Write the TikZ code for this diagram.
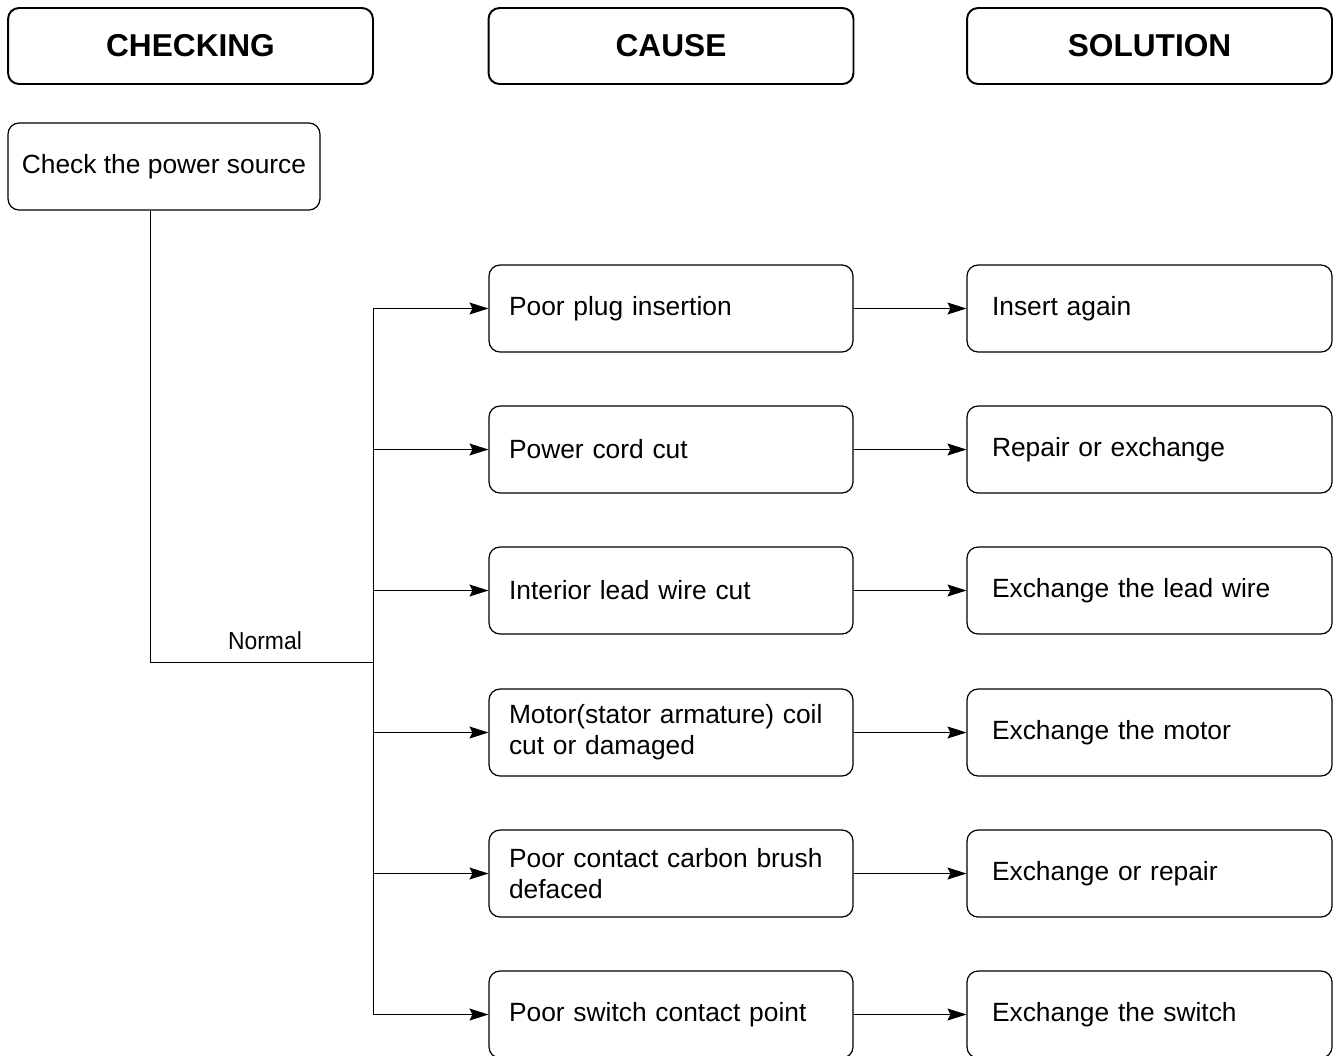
\documentclass[tikz,border=0pt]{standalone}
\usepackage{fontspec}
\setmainfont{Liberation Sans}
\newfontfamily\narrowfont[FakeStretch=0.93]{Liberation Sans}
\usetikzlibrary{positioning}
\usetikzlibrary{arrows.meta}

\tikzset{
  headbox/.style={draw, line width=1.1pt, rounded corners=0.22cm,
    minimum width=7.3cm, minimum height=1.52cm,
    font=\fontsize{18}{21}\selectfont\bfseries},
  stepbox/.style={draw, line width=0.7pt, rounded corners=0.22cm,
    minimum height=1.74cm, font=\fontsize{15}{17.6}\selectfont},
  causebox/.style={stepbox, text width=6.48cm, inner xsep=0.4cm, align=left},
  solbox/.style={stepbox, text width=6.3cm, inner xsep=0.5cm, align=left},
  link/.style={line width=0.55pt},
  arr/.style={link, -{Stealth[length=0.38cm,width=0.24cm,inset=0.06cm]}},
}

\begin{document}
\begin{tikzpicture}[x=0.02cm,y=-0.02cm]
            \clip (0,0) rectangle (1337,1055) ;
            % column headers
            \node at ( 190.5,46) [headbox] (hcheck) {CHECKING} ;
            \node at ( 671.0,46) [headbox] (hcause) {CAUSE} ;
            \node at (1149.5,46) [headbox] (hsolut) {SOLUTION} ;
            % checking step
            \node at (164,166.5) [stepbox,minimum width=6.24cm] (nchk) {Check the power source} ;
            % causes
            \node at (671, 308.5) [causebox] (nc1) {Poor plug insertion} ;
            \node at (671, 449.5) [causebox] (nc2) {Power cord cut} ;
            \node at (671, 590.5) [causebox] (nc3) {Interior lead wire cut} ;
            \node at (671, 732.5) [causebox] (nc4) {Motor(stator armature) coil\\cut or damaged} ;
            \node at (671, 873.5) [causebox] (nc5) {Poor contact carbon brush\\defaced} ;
            \node at (671,1014.5) [causebox] (nc6) {Poor switch contact point} ;
            % solutions
            \node at (1149.5, 308.5) [solbox] (ns1) {Insert again} ;
            \node at (1149.5, 449.5) [solbox] (ns2) {Repair or exchange} ;
            \node at (1149.5, 590.5) [solbox] (ns3) {Exchange the lead wire} ;
            \node at (1149.5, 732.5) [solbox] (ns4) {Exchange the motor} ;
            \node at (1149.5, 873.5) [solbox] (ns5) {Exchange or repair} ;
            \node at (1149.5,1014.5) [solbox] (ns6) {Exchange the switch} ;
            % branch point and trunk
            \coordinate (njoin) at (373,662) ;
            \draw[link] ([xshift=-0.28cm]nchk.south) |- (njoin) ;
            \node at (265,641) (nnormal) {\narrowfont\fontsize{14}{16}\selectfont Normal} ;
            \draw[link] (nc1.west -| njoin) -- (nc6.west -| njoin) ;
            % arrows from trunk to causes
            \draw[arr] (nc1.west -| njoin) -- (nc1.west) ;
            \draw[arr] (nc2.west -| njoin) -- (nc2.west) ;
            \draw[arr] (nc3.west -| njoin) -- (nc3.west) ;
            \draw[arr] (nc4.west -| njoin) -- (nc4.west) ;
            \draw[arr] (nc5.west -| njoin) -- (nc5.west) ;
            \draw[arr] (nc6.west -| njoin) -- (nc6.west) ;
            % arrows from causes to solutions
            \draw[arr] (nc1.east) -- (ns1.west) ;
            \draw[arr] (nc2.east) -- (ns2.west) ;
            \draw[arr] (nc3.east) -- (ns3.west) ;
            \draw[arr] (nc4.east) -- (ns4.west) ;
            \draw[arr] (nc5.east) -- (ns5.west) ;
            \draw[arr] (nc6.east) -- (ns6.west) ;
\end{tikzpicture}
\end{document}
